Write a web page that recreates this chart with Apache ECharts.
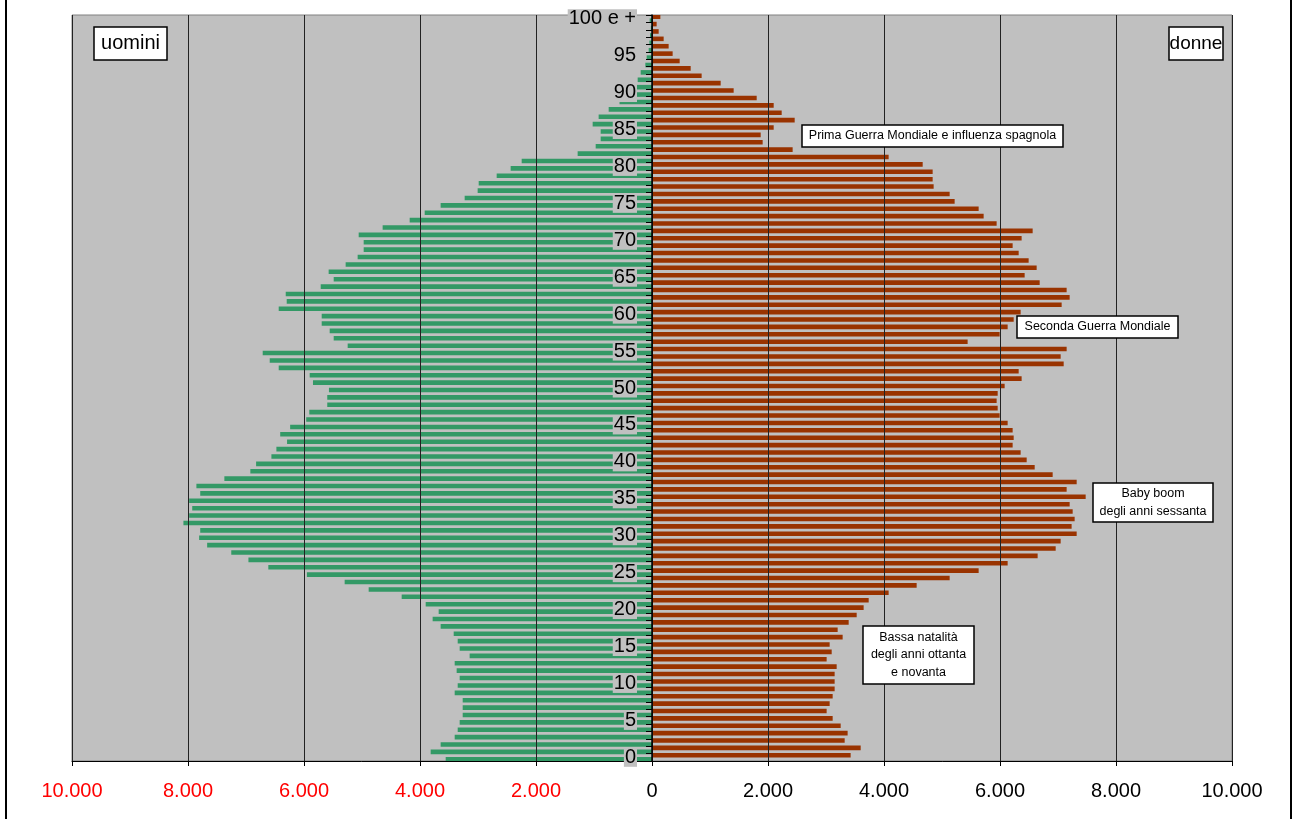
<!DOCTYPE html>
<html><head><meta charset="utf-8">
<script src="https://cdn.jsdelivr.net/npm/echarts@6/dist/echarts.min.js"></script>
<style>html,body{margin:0;padding:0;background:#fff}#c{width:1296px;height:819px}</style>
</head><body><div id="c"></div>
<script>
const ages = ['0','1','2','3','4','5','6','7','8','9','10','11','12','13','14','15','16','17','18','19',
'20','21','22','23','24','25','26','27','28','29','30','31','32','33','34','35','36','37','38','39',
'40','41','42','43','44','45','46','47','48','49','50','51','52','53','54','55','56','57','58','59',
'60','61','62','63','64','65','66','67','68','69','70','71','72','73','74','75','76','77','78','79',
'80','81','82','83','84','85','86','87','88','89','90','91','92','93','94','95','96','97','98','99','100 e +'];

const uomini = [3557,3816,3644,3402,3350,3316,3264,3264,3264,3402,
3350,3316,3368,3402,3144,3316,3350,3419,3644,3782,
3678,3902,4316,4885,5299,5950,6615,6958,7254,7670,
7808,7789,8079,7980,7927,7980,7789,7855,7373,6925,
6826,6562,6476,6292,6410,6239,5962,5909,5599,5599,
5570,5845,5902,6436,6591,6712,5247,5488,5557,5695,
5695,6436,6298,6315,5712,5488,5575,5282,5075,4971,
4971,5057,4644,4178,3919,3644,3230,3006,2988,2678,
2437,2247,1282,971,885,885,1023,920,747,560,
470,370,247,195,115,92,57,45,35,20,40];

const donne = [3425,3598,3322,3373,3253,3115,3011,3063,3115,3149,
3149,3149,3184,3011,3098,3063,3287,3201,3391,3529,
3649,3736,4080,4563,5132,5632,6132,6649,6960,7046,
7322,7235,7287,7253,7201,7477,7149,7322,6908,6598,
6460,6356,6218,6236,6218,6132,5994,5960,5942,5960,
6080,6373,6322,7098,7046,7149,5442,5994,6132,6236,
6356,7063,7201,7149,6684,6425,6632,6494,6322,6218,
6373,6563,5942,5718,5632,5218,5132,4856,4839,4839,
4667,4080,2425,1908,1874,2098,2460,2236,2098,1805,
1408,1184,856,667,477,356,287,201,115,80,144];

const xMin = -10000, xMax = 10000, xStep = 2000;
const seriesNames = ['uomini', 'donne'];
const notes = [
  {lines: ['Prima Guerra Mondiale e influenza spagnola'], box: [802, 125, 261, 22]},
  {lines: ['Seconda Guerra Mondiale'], box: [1017, 316, 161, 22]},
  {lines: ['Baby boom', 'degli anni sessanta'], box: [1093, 483, 120, 39]},
  {lines: ['Bassa natalità', 'degli anni ottanta', 'e novanta'], box: [863, 626, 111, 58]}
];

const FONT = "'Liberation Sans', Arial, sans-serif";
const chart = echarts.init(document.getElementById('c'));

function fmt(v){
  const a = Math.abs(v);
  return a >= 1000 ? Math.floor(a/1000) + '.' + String(a%1000).padStart(3,'0') : String(a);
}

const graphics = [
  {type:'rect', shape:{x:5, y:-2, width:2, height:825}, style:{fill:'#000'}},
  {type:'rect', shape:{x:1290, y:-2, width:2, height:825}, style:{fill:'#000'}}
];
function addBox(x, y, w, h, lines, fs, lh){
  graphics.push({type:'rect', z:20, shape:{x:x, y:y, width:w, height:h},
    style:{fill:'#fff', stroke:'#000', lineWidth:1.5}});
  const cy = y + h/2 - (lines.length-1)*lh/2;
  lines.forEach((t,i)=>{
    graphics.push({type:'text', z:21, style:{x:x+w/2, y:cy+i*lh, text:t, fill:'#000',
      font: fs + 'px ' + FONT, textAlign:'center', textVerticalAlign:'middle'}});
  });
}
addBox(94, 27, 73, 33, [seriesNames[0]], 20, 20);
addBox(1169, 27, 54, 33, [seriesNames[1]], 19, 20);
notes.forEach(n => addBox(n.box[0], n.box[1], n.box[2], n.box[3], n.lines, 12.5, 17.3));

chart.setOption({
  animation: false,
  grid: {left: 72, right: 64, top: 15, bottom: 58, show: true, backgroundColor: '#c0c0c0',
    borderColor: '#808080', borderWidth: 1, outerBoundsMode: 'none', containLabel: false},
  xAxis: {
    type: 'value', min: xMin, max: xMax, interval: xStep, z: 5,
    axisLine: {show: true, onZero: false, lineStyle: {color: '#000', width: 1}},
    axisTick: {show: true, length: 5, lineStyle: {color: '#000'}},
    splitLine: {show: true, lineStyle: {color: '#222', width: 1}},
    axisLabel: {margin: 20, fontSize: 20, fontFamily: FONT,
      formatter: v => (v < 0 ? '{r|' : '{b|') + fmt(v) + '}',
      rich: {r: {color: '#ff0000', fontSize: 20, fontFamily: FONT}, b: {color: '#000', fontSize: 20, fontFamily: FONT}}}
  },
  yAxis: {
    type: 'category', data: ages, z: 6, position: 'left', offset: -580,
    axisLine: {show: true, onZero: false, lineStyle: {color: '#000', width: 1.5}},
    axisTick: {show: true, interval: 0, length: 6, lineStyle: {color: '#000'}},
    axisLabel: {interval: 4, margin: 15, fontSize: 20, fontFamily: FONT, color: '#000',
      backgroundColor: '#c0c0c0', lineHeight: 19, padding: [0, 1, 0, 1]},
    splitLine: {show: false}
  },
  series: [
    {name: seriesNames[1], type: 'bar', data: donne, barWidth: 4.6, barGap: '-13%',
      itemStyle: {color: '#993300'}},
    {name: seriesNames[0], type: 'bar', data: uomini.map(v => -v), barWidth: 4.6, barGap: '-13%',
      itemStyle: {color: '#339966'}}
  ],
  graphic: graphics
});
</script></body></html>
